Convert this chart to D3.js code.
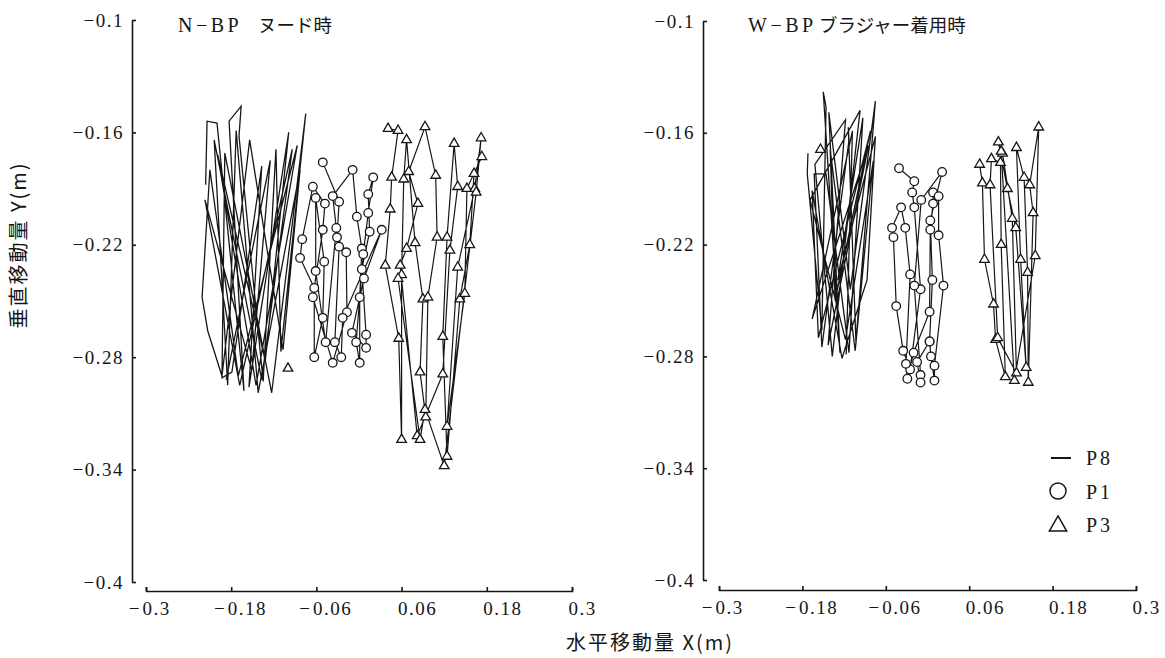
<!DOCTYPE html>
<html>
<head>
<meta charset="utf-8">
<script src="https://cdn.jsdelivr.net/npm/d3@7/dist/d3.min.js"></script>
<style>
  body { margin: 0; background: #fff; }
  svg { display: block; }
  text { font-family: "Liberation Serif", "DejaVu Serif", serif !important; fill: #161616; }
  text.jp, tspan.jp { font-family: "Noto Sans CJK JP", sans-serif !important; }
</style>
</head>
<body>
<svg id="chart" width="1165" height="658"></svg>
<script>
// tick values (same for both panels)
const xTicks = [-0.3, -0.18, -0.06, 0.06, 0.18, 0.3];
const yTicks = [-0.1, -0.16, -0.22, -0.28, -0.34, -0.4];

const legendLabels = ["P8", "P1", "P3"];

// N-BP (nude) : [x, y] in metres
const nudeP8 = [
  [-0.216,-0.188],[-0.214,-0.154],[-0.200,-0.155],[-0.162,-0.298],[-0.183,-0.154],[-0.166,-0.146],
  [-0.169,-0.162],[-0.135,-0.293],[-0.117,-0.169],[-0.110,-0.277],[-0.075,-0.150],[-0.123,-0.299],
  [-0.189,-0.171],[-0.193,-0.291],[-0.179,-0.288],[-0.137,-0.178],[-0.155,-0.296],[-0.099,-0.160],
  [-0.132,-0.282],[-0.199,-0.172],[-0.145,-0.295],[-0.087,-0.167],[-0.170,-0.290],[-0.210,-0.180],
  [-0.221,-0.248],[-0.213,-0.266],[-0.193,-0.290],[-0.154,-0.164],[-0.107,-0.276],[-0.083,-0.180],
  [-0.142,-0.299],[-0.173,-0.159],[-0.185,-0.295],[-0.204,-0.164],[-0.137,-0.292],[-0.094,-0.169],
  [-0.168,-0.295],[-0.217,-0.196],[-0.151,-0.287],[-0.125,-0.175],[-0.187,-0.292]
];
const nudeP1 = [
  [-0.051,-0.176],[-0.028,-0.197],[-0.031,-0.216],[-0.018,-0.224],[-0.017,-0.256],[-0.037,-0.283],
  [-0.065,-0.248],[-0.051,-0.212],[-0.048,-0.198],[-0.065,-0.189],[-0.080,-0.217],[-0.083,-0.227],
  [-0.063,-0.243],[-0.063,-0.280],[-0.051,-0.259],[-0.049,-0.229],[-0.061,-0.195],[-0.061,-0.234],
  [-0.047,-0.272],[-0.032,-0.211],[-0.037,-0.194],[-0.009,-0.180],[-0.003,-0.205],[0.004,-0.222],
  [0.001,-0.248],[0.001,-0.283],[-0.004,-0.272],[0.006,-0.225],[0.013,-0.203],[0.020,-0.184],
  [0.013,-0.193],[0.015,-0.213],[0.004,-0.233],[0.010,-0.268],[0.010,-0.275],[-0.010,-0.267],
  [0.007,-0.238],[0.032,-0.212],[-0.023,-0.259],[-0.025,-0.280],[-0.034,-0.272],[-0.028,-0.221]
];
const nudeP3 = [
  [0.041,-0.158],[0.055,-0.159],[0.046,-0.184],[0.044,-0.201],[0.037,-0.231],[0.056,-0.270],
  [0.060,-0.324],[0.060,-0.236],[0.063,-0.185],[0.067,-0.164],[0.079,-0.219],[0.090,-0.249],
  [0.086,-0.288],[0.094,-0.312],[0.097,-0.248],[0.110,-0.216],[0.108,-0.183],[0.093,-0.157],
  [0.070,-0.181],[0.083,-0.198],[0.067,-0.222],[0.058,-0.231],[0.082,-0.322],[0.118,-0.289],
  [0.128,-0.223],[0.139,-0.189],[0.134,-0.166],[0.124,-0.216],[0.118,-0.269],[0.124,-0.333],
  [0.142,-0.249],[0.156,-0.220],[0.162,-0.182],[0.173,-0.173],[0.152,-0.190],[0.149,-0.246],
  [0.124,-0.317],[0.139,-0.232],[0.163,-0.190],[0.172,-0.163],[0.165,-0.192],[0.120,-0.338],
  [0.093,-0.308],[0.086,-0.324],[0.055,-0.238]
];
const nudeP3Stray = [[-0.100,-0.286]];

// W-BP (with brassiere)
const braP8 = [
  [-0.172,-0.171],[-0.173,-0.182],[-0.152,-0.266],[-0.146,-0.146],[-0.150,-0.138],[-0.126,-0.278],
  [-0.142,-0.149],[-0.111,-0.244],[-0.075,-0.143],[-0.103,-0.272],[-0.114,-0.157],[-0.113,-0.164],
  [-0.152,-0.275],[-0.163,-0.182],[-0.146,-0.182],[-0.113,-0.278],[-0.093,-0.152],[-0.129,-0.239],
  [-0.075,-0.162],[-0.087,-0.239],[-0.123,-0.281],[-0.166,-0.191],[-0.157,-0.270],[-0.082,-0.159],
  [-0.133,-0.250],[-0.140,-0.169],[-0.104,-0.277],[-0.078,-0.175],[-0.118,-0.271],[-0.169,-0.196],
  [-0.097,-0.148],[-0.137,-0.280],[-0.162,-0.177],[-0.118,-0.153],[-0.143,-0.274],[-0.085,-0.167],
  [-0.166,-0.260],[-0.108,-0.159],[-0.117,-0.279]
];
const braP1 = [
  [-0.041,-0.179],[-0.019,-0.186],[-0.022,-0.192],[-0.019,-0.200],[-0.010,-0.244],[-0.025,-0.287],
  [-0.035,-0.277],[-0.045,-0.253],[-0.049,-0.216],[-0.051,-0.211],[-0.038,-0.200],[-0.032,-0.211],
  [-0.025,-0.236],[-0.031,-0.284],[-0.029,-0.292],[-0.020,-0.278],[0.003,-0.256],[0.004,-0.212],
  [0.008,-0.198],[0.008,-0.192],[0.016,-0.194],[0.016,-0.215],[0.023,-0.242],[0.010,-0.285],
  [0.010,-0.293],[0.005,-0.280],[0.003,-0.272],[0.007,-0.239],[0.004,-0.207],[0.021,-0.181],
  [-0.009,-0.196],[-0.019,-0.242],[-0.010,-0.290],[-0.010,-0.294],[-0.015,-0.283],[0.003,-0.272]
];
const braP3 = [
  [0.075,-0.177],[0.079,-0.187],[0.082,-0.228],[0.095,-0.252],[0.098,-0.271],[0.112,-0.291],
  [0.106,-0.220],[0.105,-0.176],[0.092,-0.174],[0.090,-0.188],[0.101,-0.270],[0.128,-0.289],
  [0.122,-0.206],[0.108,-0.171],[0.102,-0.165],[0.115,-0.190],[0.127,-0.211],[0.142,-0.286],
  [0.134,-0.228],[0.128,-0.168],[0.139,-0.184],[0.144,-0.235],[0.145,-0.294],[0.152,-0.203],
  [0.147,-0.188],[0.160,-0.157],[0.155,-0.226],[0.125,-0.293],[0.106,-0.170]
];
const braP3Stray = [[-0.154,-0.169]];

const svg = d3.select("#chart");
const ink = "#161616";
const SERIF = '"Liberation Serif", "DejaVu Serif", serif';

// Draw one panel: axes, trajectories, markers
function drawPanel(p) {
  const x = d3.scaleLinear().domain([-0.3, 0.3]).range([p.x0, p.x1]);
  const y = d3.scaleLinear().domain([-0.4, -0.1]).range([p.yBot, p.yTop]);
  const g = svg.append("g");

  // y axis, ticks pointing inward
  const yAxis = g.append("g")
    .attr("transform", `translate(${p.yAxisX},0)`)
    .call(d3.axisLeft(y).tickValues(yTicks).tickSize(-4).tickSizeOuter(0).tickPadding(8)
      .tickFormat((d) => "\u2212" + Math.abs(d)));
  yAxis.attr("font-family", SERIF);
  yAxis.selectAll("path, line").attr("stroke", ink).attr("stroke-width", 1.6);
  yAxis.selectAll("text").attr("font-size", 19).attr("letter-spacing", "1.5px").attr("fill", ink);

  // x axis, starts right of the y axis
  const xAxis = g.append("g")
    .attr("transform", `translate(0,${p.axisY})`)
    .call(d3.axisBottom(x).tickValues(xTicks).tickSize(-4).tickSizeOuter(-4).tickFormat(() => ""));
  xAxis.attr("font-family", SERIF);
  xAxis.selectAll("path, line").attr("stroke", ink).attr("stroke-width", 1.6);
  xAxis.selectAll(".tick").each(function (d) {
    const t = d3.select(this);
    t.select("text").remove();
    t.append("text").attr("x", -4).attr("y", 24).attr("text-anchor", "start")
      .attr("font-size", 19).attr("letter-spacing", "1.5px").text(String(Math.abs(d)));
    if (d < 0) {
      t.append("text").attr("x", -7).attr("y", 24).attr("text-anchor", "end")
        .attr("font-size", 19).text("\u2212");
    }
  });

  // title
  const title = g.append("text").attr("y", 32).attr("font-size", 20);
  title.append("tspan").attr("x", p.titleX).attr("letter-spacing", "3.5px").text(p.title[0]);
  title.append("tspan").attr("class", "jp").attr("x", p.titleJpX).attr("font-size", 18.5).text(p.title[1]);

  const line = d3.line().x((d) => x(d[0])).y((d) => y(d[1]));

  g.append("path").datum(p.p8).attr("d", line)
    .attr("fill", "none").attr("stroke", ink).attr("stroke-width", 1.3);
  g.append("path").datum(p.p1).attr("d", line)
    .attr("fill", "none").attr("stroke", ink).attr("stroke-width", 1.2);
  g.append("path").datum(p.p3).attr("d", line)
    .attr("fill", "none").attr("stroke", ink).attr("stroke-width", 1.2);

  g.selectAll(".c").data(p.p1).enter().append("circle")
    .attr("cx", (d) => x(d[0])).attr("cy", (d) => y(d[1])).attr("r", 4.3)
    .attr("fill", "#fff").attr("stroke", ink).attr("stroke-width", 1.3);

  const tri = d3.symbol(d3.symbolTriangle).size(40);
  g.selectAll(".t").data(p.p3.concat(p.stray)).enter().append("path")
    .attr("d", tri).attr("transform", (d) => `translate(${x(d[0])},${y(d[1])})`)
    .attr("fill", "#fff").attr("stroke", ink).attr("stroke-width", 1.3);
}

drawPanel({
  x0: 146, x1: 572, axisY: 591, yAxisX: 132, yTop: 20, yBot: 582,
  title: ["N\u2212BP", "ヌード時"], titleX: 178, titleJpX: 258,
  p8: nudeP8, p1: nudeP1, p3: nudeP3, stray: nudeP3Stray
});
drawPanel({
  x0: 719, x1: 1136, axisY: 590, yAxisX: 703, yTop: 21, yBot: 580,
  title: ["W\u2212BP", "ブラジャー着用時"], titleX: 748, titleJpX: 819,
  p8: braP8, p1: braP1, p3: braP3, stray: braP3Stray
});

// legend (right panel)
const lg = svg.append("g").attr("transform", "translate(1060,0)");
lg.append("line").attr("x1", -9).attr("x2", 11).attr("y1", 458).attr("y2", 458)
  .attr("stroke", ink).attr("stroke-width", 2);
lg.append("circle").attr("cx", -2).attr("cy", 491).attr("r", 8)
  .attr("fill", "#fff").attr("stroke", ink).attr("stroke-width", 1.5);
lg.append("path").attr("d", d3.symbol(d3.symbolTriangle).size(130))
  .attr("transform", "translate(-2,526)")
  .attr("fill", "#fff").attr("stroke", ink).attr("stroke-width", 1.5);
lg.selectAll(".lt").data(legendLabels).enter().append("text")
  .attr("x", 26).attr("y", (d, i) => 458 + i * 33.5).attr("dy", "0.35em")
  .attr("font-family", SERIF).attr("font-size", 20).attr("letter-spacing", "3px").text((d) => d);

// axis titles
svg.append("text").attr("class", "jp").attr("x", 650).attr("y", 650)
  .attr("text-anchor", "middle").attr("font-size", 20).attr("letter-spacing", "2px")
  .text("水平移動量 X(m)");
svg.append("text").attr("class", "jp")
  .attr("transform", "translate(26,245) rotate(-90)")
  .attr("text-anchor", "middle").attr("font-size", 20).attr("letter-spacing", "2px")
  .text("垂直移動量 Y(m)");
</script>
</body>
</html>
